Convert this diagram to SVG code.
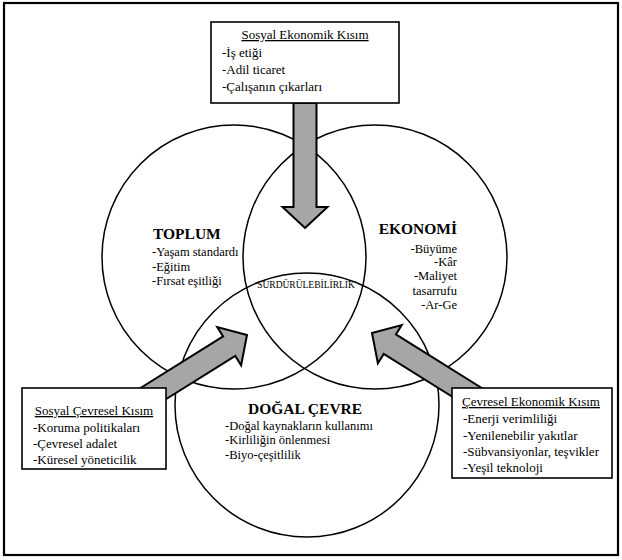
<svg xmlns="http://www.w3.org/2000/svg" width="622" height="560" viewBox="0 0 622 560" font-family="'Liberation Serif', 'DejaVu Serif', serif">
<style>
.frame{fill:#fff;stroke:#000;stroke-width:2.2}
.circ{fill:none;stroke:#000;stroke-width:1.5}
.box{fill:#fff;stroke:#000;stroke-width:1.6}
.arr{fill:#a6a6a6;stroke:#000;stroke-width:2;stroke-linejoin:miter}
text{font-family:'Liberation Serif','DejaVu Serif',serif;fill:#000}
.t{font-size:13px}
.c{font-size:12.5px}
.h{font-size:15.5px;font-weight:bold}
.u{text-decoration:underline}
.s{font-size:9.5px}
</style>
<defs>
<polygon id="arrow" points="0,0 -21,-22.5 -21,-11.5 -125,-11.5 -125,11.5 -21,11.5 -21,22.5"/>
</defs>
<rect class="frame" x="4" y="3" width="614" height="552"/>
<g id="toplum">
<circle class="circ" cx="234" cy="257" r="132"/>
<text class="h" x="153" y="239">TOPLUM</text>
<text class="c" x="152" y="256">-Yaşam standardı</text>
<text class="c" x="152" y="271">-Eğitim</text>
<text class="c" x="152" y="285">-Fırsat eşitliği</text>
</g>
<g id="ekonomi">
<circle class="circ" cx="375" cy="257" r="132"/>
<g text-anchor="end">
<text class="h" x="457" y="234">EKONOMİ</text>
<text class="c" x="457" y="253">-Büyüme</text>
<text class="c" x="457" y="266">-Kâr</text>
<text class="c" x="457" y="280">-Maliyet</text>
<text class="c" x="457" y="295">tasarrufu</text>
<text class="c" x="457" y="309">-Ar-Ge</text>
</g>
</g>
<g id="dogal-cevre">
<circle class="circ" cx="307" cy="405" r="132"/>
<text class="h" x="248" y="414">DOĞAL ÇEVRE</text>
<text class="c" x="225" y="430">-Doğal kaynakların kullanımı</text>
<text class="c" x="225" y="444">-Kirliliğin önlenmesi</text>
<text class="c" x="225" y="459">-Biyo-çeşitlilik</text>
</g>
<g id="surdurulebilirlik">
<text class="s" x="306" y="288" text-anchor="middle">SÜRDÜRÜLEBİLİRLİK</text>
</g>
<g id="connectors">
<use href="#arrow" class="arr" transform="translate(305,228) rotate(90)"/>
<use href="#arrow" class="arr" transform="translate(247,335) rotate(-32)"/>
<use href="#arrow" class="arr" transform="translate(372,333) rotate(-148)"/>
</g>
<g id="sosyal-ekonomik">
<rect class="box" x="211" y="22" width="188" height="81"/>
<text class="t u" x="305" y="39" text-anchor="middle">Sosyal Ekonomik Kısım</text>
<text class="t" x="222" y="57">-İş etiği</text>
<text class="t" x="222" y="74">-Adil ticaret</text>
<text class="t" x="222" y="91">-Çalışanın çıkarları</text>
</g>
<g id="sosyal-cevresel">
<rect class="box" x="22" y="388" width="144" height="81"/>
<text class="t u" x="94" y="415" text-anchor="middle">Sosyal Çevresel Kısım</text>
<text class="t" x="33" y="432">-Koruma politikaları</text>
<text class="t" x="33" y="448">-Çevresel adalet</text>
<text class="t" x="33" y="464">-Küresel yöneticilik</text>
</g>
<g id="cevresel-ekonomik">
<rect class="box" x="452" y="388" width="160" height="90"/>
<text class="t u" x="531" y="406" text-anchor="middle">Çevresel Ekonomik Kısım</text>
<text class="t" x="463" y="423">-Enerji verimliliği</text>
<text class="t" x="463" y="440">-Yenilenebilir yakıtlar</text>
<text class="t" x="463" y="456">-Sübvansiyonlar, teşvikler</text>
<text class="t" x="463" y="472">-Yeşil teknoloji</text>
</g>
</svg>
